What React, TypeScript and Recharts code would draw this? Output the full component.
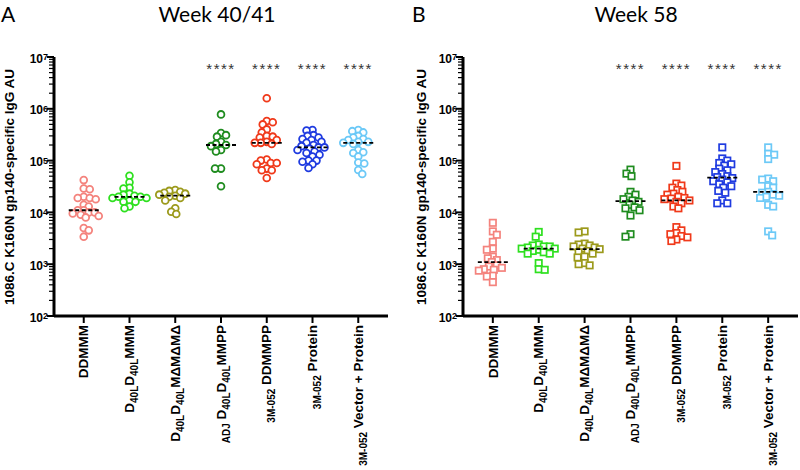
import React from "react";
import { Scatter, ScatterChart, XAxis, YAxis } from "recharts";

// category labels: [text, isSubscript] segments
const categories: [string, boolean][][] = [
  [["DDMMM", false]],
  [["D", false], ["40L", true], ["D", false], ["40L", true], ["MMM", false]],
  [["D", false], ["40L", true], ["D", false], ["40L", true], ["MΔMΔMΔ", false]],
  [["ADJ", true], [" D", false], ["40L", true], ["D", false], ["40L", true], ["MMPP", false]],
  [["3M-052", true], [" DDMMPP", false]],
  [["3M-052", true], [" Protein", false]],
  [["3M-052", true], [" Vector + Protein", false]],
];

const groupColors = ["#f4837d", "#2ee01f", "#9c9a1c", "#1f8c1f", "#f0391a", "#1f3be0", "#6cc9f7"];

// Week 40/41 (IgG AU)
const w40DDMMM = [42000, 29000, 28000, 20000, 19000, 19000, 18000, 14000, 13000, 11000, 11000, 10000, 10000, 9500, 9000, 8500, 8000, 5000, 4500, 3400];
const w40D40LMMM = [51000, 38000, 30000, 29000, 23000, 22000, 21000, 20000, 20000, 19000, 19000, 17000, 16000, 16000, 13000, 12000];
const w40MdMdMd = [27000, 26000, 25000, 24000, 23000, 22000, 21000, 20000, 19000, 17000, 12000, 10300, 9300];
const w40AdjMMPP = [780000, 340000, 310000, 290000, 230000, 210000, 200000, 190000, 160000, 150000, 70000, 70000, 32000];
const w40DDMMPP = [1600000, 580000, 550000, 500000, 400000, 350000, 300000, 290000, 280000, 250000, 230000, 220000, 220000, 210000, 105000, 100000, 90000, 90000, 85000, 70000, 65000, 65000, 46000];
const w40Protein = [390000, 380000, 310000, 300000, 280000, 260000, 250000, 230000, 220000, 200000, 190000, 180000, 180000, 170000, 160000, 150000, 140000, 130000, 120000, 100000, 100000, 95000, 85000, 72000];
const w40VecProtein = [390000, 370000, 350000, 300000, 280000, 260000, 250000, 230000, 230000, 220000, 210000, 160000, 145000, 140000, 120000, 92000, 88000, 66000, 55000];

// Week 58 (IgG AU)
const w58DDMMM = [6300, 4300, 3700, 2700, 2000, 1900, 1400, 1300, 1200, 1100, 950, 900, 850, 800, 780, 750, 600, 580, 450];
const w58D40LMMM = [4200, 3400, 2400, 2300, 2200, 2200, 2100, 2000, 2000, 1900, 1800, 1700, 1600, 1600, 1050, 800, 780];
const w58MdMdMd = [4300, 4100, 2500, 2400, 2300, 2200, 2100, 2000, 1950, 1800, 1700, 1600, 1400, 1350, 1050, 1000, 950];
const w58AdjMMPP = [67000, 56000, 50000, 25000, 22000, 20000, 18000, 17000, 16000, 14000, 12500, 12000, 11000, 8700, 3800, 3400];
const w58DDMMPP = [79000, 36000, 33000, 30000, 27000, 25000, 23000, 22000, 20000, 19000, 18500, 18000, 17000, 16000, 15000, 13000, 12000, 5200, 4500, 4000, 3800, 3500, 3300, 3000, 2800];
const w58Protein = [180000, 110000, 100000, 90000, 85000, 80000, 70000, 65000, 60000, 55000, 50000, 48000, 46000, 43000, 40000, 38000, 35000, 32000, 30000, 26000, 24000, 17000, 15000, 15000];
const w58VecProtein = [180000, 135000, 130000, 107000, 45000, 43000, 40000, 32000, 30000, 25000, 24000, 22000, 21000, 20000, 19000, 14000, 13000, 4300, 3600];

const week40 = [w40DDMMM, w40D40LMMM, w40MdMdMd, w40AdjMMPP, w40DDMMPP, w40Protein, w40VecProtein];
const week58 = [w58DDMMM, w58D40LMMM, w58MdMdMd, w58AdjMMPP, w58DDMMPP, w58Protein, w58VecProtein];

// significance marks (groups 4-7 vs. DDMMM)
const starGroups = [4, 5, 6, 7];
const starLevel = 6.7e6;

const yTicks = [2, 3, 4, 5, 6]
  .flatMap((e) => [1, 2, 3, 4, 5, 6, 7, 8, 9].map((m) => m * 10 ** e))
  .concat([1e7]);

const FONT = "'Liberation Sans', Arial, sans-serif";
const PX_PER_DECADE = 51.8;
const PX_PER_CAT = 45.8;

function median(vals: number[]) {
  const s = [...vals].sort((a, b) => a - b);
  const m = Math.floor(s.length / 2);
  return s.length % 2 ? s[m] : (s[m - 1] + s[m]) / 2;
}

// simple beeswarm: spread points sideways so they don't sit right on top of each other
function swarm(vals: number[], d = 5.2) {
  const order = vals.map((_, i) => i).sort((a, b) => vals[b] - vals[a]);
  const placed: { x: number; y: number }[] = [];
  const out = new Array(vals.length).fill(0);
  for (const i of order) {
    const y = Math.log10(vals[i]) * PX_PER_DECADE;
    let pos = 0;
    for (let k = 0; k < 80; k++) {
      const cands = k === 0 ? [0] : placed.length % 2 ? [-k, k] : [k, -k];
      const hit = cands.find((c) => placed.every((p) => Math.hypot(p.x - c, p.y - y) >= d));
      if (hit !== undefined) {
        pos = hit;
        break;
      }
    }
    placed.push({ x: pos, y });
    out[i] = pos / PX_PER_CAT;
  }
  return out;
}

function YTick({ x, y, payload }: any) {
  const v = payload.value;
  const e = Math.round(Math.log10(v));
  const major = Math.abs(Math.log10(v) - e) < 1e-6;
  return (
    <g>
      <line x1={x - (major ? 7 : 5)} x2={x} y1={y} y2={y} stroke="#000" strokeWidth={major ? 2 : 1.2} />
      {major && (
        <text x={x - 6} y={y + 5.5} textAnchor="end" fontFamily={FONT} fontWeight="bold" fontSize={12} fill="#000">
          10
          <tspan fontSize={9} dy={-2.5}>
            {e}
          </tspan>
        </text>
      )}
    </g>
  );
}

function XTick({ x, y, payload }: any) {
  const segs = categories[payload.value - 1];
  if (!segs) return null;
  let inSub = false;
  return (
    <g>
      <line x1={x} x2={x} y1={y} y2={y + 7} stroke="#000" strokeWidth={2} />
      <g transform={`translate(${x},${y + 9}) rotate(-90)`}>
        <text x={0} y={4.7} textAnchor="end" fontFamily={FONT} fontWeight="bold" fill="#000" style={{ whiteSpace: "pre" }}>
          {segs.map(([t, sub], i) => {
            const dy = sub && !inSub ? 4 : !sub && inSub ? -4 : 0;
            inSub = sub;
            return (
              <tspan key={i} fontSize={sub ? 10 : 13.5} dy={dy}>
                {t}
              </tspan>
            );
          })}
        </text>
      </g>
    </g>
  );
}

function Panel({ groups, square, axisWidth, right }: { groups: number[][]; square: boolean; axisWidth: number; right: number }) {
  const medians = groups.map((g, i) => ({ x: i + 1, y: median(g) }));
  const stars = starGroups.map((g) => ({ x: g, y: starLevel }));
  return (
    <ScatterChart width={400} height={470} margin={{ top: 57, right, bottom: 0, left: 0 }}>
      <XAxis
        type="number"
        dataKey="x"
        domain={[0.35, 7.65]}
        ticks={[1, 2, 3, 4, 5, 6, 7]}
        interval={0}
        allowDataOverflow
        height={154}
        tickSize={0}
        tickMargin={0}
        tickLine={false}
        axisLine={{ stroke: "#000", strokeWidth: 3 }}
        tick={(p: any) => <XTick {...p} />}
      />
      <YAxis
        type="number"
        dataKey="y"
        scale="log"
        domain={[100, 1e7]}
        ticks={yTicks}
        interval={0}
        allowDataOverflow
        width={axisWidth}
        tickSize={0}
        tickMargin={0}
        tickLine={false}
        axisLine={{ stroke: "#000", strokeWidth: 3 }}
        tick={(p: any) => <YTick {...p} />}
      />
      {groups.map((vals, gi) => {
        const off = swarm(vals);
        const pts = vals.map((v, i) => ({ x: gi + 1 + off[i], y: v }));
        const c = groupColors[gi];
        return (
          <Scatter
            key={gi}
            data={pts}
            isAnimationActive={false}
            shape={(p: any) =>
              square ? (
                <rect x={p.cx - 3.2} y={p.cy - 3.2} width={6.4} height={6.4} fill="#fff" stroke={c} strokeWidth={1.7} />
              ) : (
                <circle cx={p.cx} cy={p.cy} r={3.4} fill="#fff" stroke={c} strokeWidth={1.8} />
              )
            }
          />
        );
      })}
      <Scatter
        data={medians}
        isAnimationActive={false}
        shape={(p: any) => (
          <line x1={p.cx - 15} x2={p.cx + 15} y1={p.cy} y2={p.cy} stroke="#000" strokeWidth={1.8} strokeDasharray="4 2.5" />
        )}
      />
      <Scatter
        data={stars}
        isAnimationActive={false}
        shape={(p: any) => (
          <text x={p.cx} y={p.cy + 8.4} textAnchor="middle" fontFamily={FONT} fontSize={15} letterSpacing={1.5} fill="#333">
            ****
          </text>
        )}
      />
    </ScatterChart>
  );
}

const yLabel = "1086.C K160N gp140-specific IgG AU";

export default function App() {
  return (
    <div style={{ position: "absolute", left: 0, top: 0, width: 800, height: 470, background: "#fff" }}>
      <div style={{ position: "absolute", left: 0, top: 0 }}>
        <Panel groups={week40} square={false} axisWidth={54} right={12} />
      </div>
      <div style={{ position: "absolute", left: 400, top: 0 }}>
        <Panel groups={week58} square axisWidth={63} right={2} />
      </div>
      <svg width={800} height={470} style={{ position: "absolute", left: 0, top: 0, pointerEvents: "none" }}>
        <text x={1} y={22} fontFamily="Lato, 'Open Sans', sans-serif" fontSize={21} fill="#000">A</text>
        <text x={217} y={22} textAnchor="middle" fontFamily="Lato, 'Open Sans', sans-serif" fontSize={21} fill="#000">Week 40/41</text>
        <text x={412} y={22} fontFamily="Lato, 'Open Sans', sans-serif" fontSize={21} fill="#000">B</text>
        <text x={636} y={22} textAnchor="middle" fontFamily="Lato, 'Open Sans', sans-serif" fontSize={21} fill="#000">Week 58</text>
        <text transform="translate(9,187) rotate(-90)" textAnchor="middle" dominantBaseline="central" fontFamily={FONT} fontWeight="bold" fontSize={13.5} fill="#000">
          {yLabel}
        </text>
        <text transform="translate(421,187) rotate(-90)" textAnchor="middle" dominantBaseline="central" fontFamily={FONT} fontWeight="bold" fontSize={13.5} fill="#000">
          {yLabel}
        </text>
      </svg>
    </div>
  );
}
